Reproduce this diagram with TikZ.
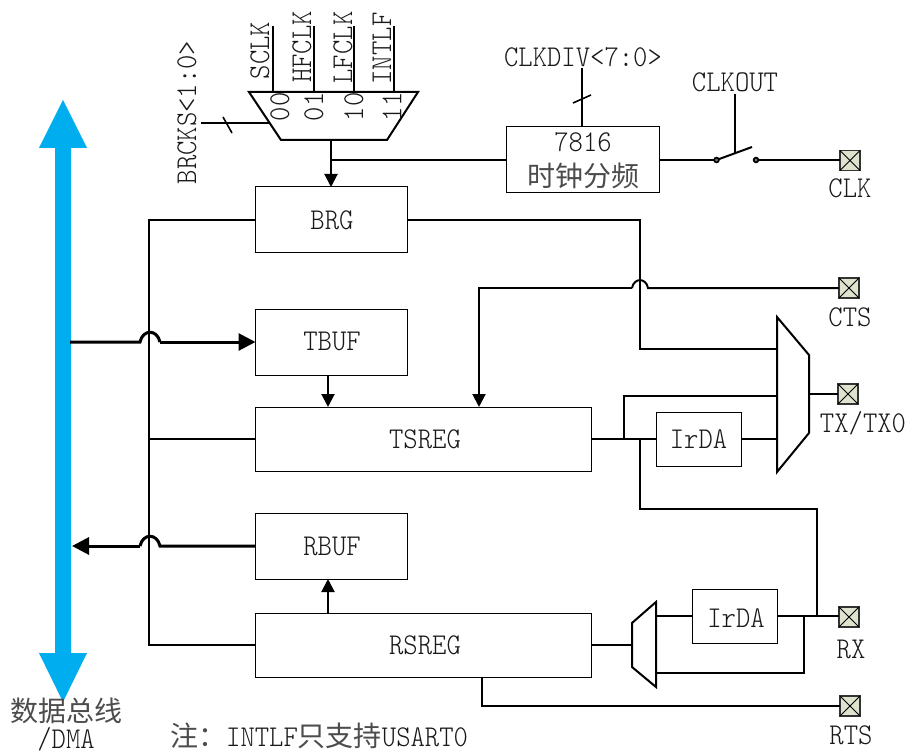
\documentclass[tikz,border=0pt]{standalone}
\usepackage{fontspec}
\usetikzlibrary{arrows.meta,calc}
\setmainfont{Liberation Serif}
\newfontfamily\lat[FakeStretch=0.905]{Latin Modern Mono Light}
\newfontfamily\cjk{Noto Sans CJK SC}
\newcommand{\lbl}{\fontsize{30.2}{30}\selectfont\lat}
\newcommand{\zh}{\fontsize{28}{30}\selectfont\cjk}
\tikzset{
  wire/.style={line width=2pt,black},
  thick wire/.style={line width=3pt,black},
  boxnode/.style={draw=black,line width=1pt,fill=white,inner sep=0pt,outer sep=0pt},
  txt/.style={font=\lbl,inner sep=0pt,outer sep=0pt,text=black!90},
  pad/.style={draw=black!80,line width=1.2pt,fill=padc,minimum size=20pt,inner sep=0pt,outer sep=0pt},
  mux/.style={draw=black,line width=2pt,fill=white,line join=miter},
  tip/.style={-{Triangle[length=13pt,width=13pt]}},
  bigtip/.style={-{Triangle[length=17pt,width=17pt]}},
}
\definecolor{padc}{HTML}{DDE3CC}
\definecolor{buscol}{HTML}{00AEEF}
\newcommand{\padx}[1]{\draw[line width=0.8pt] (#1.north west)--(#1.south east) (#1.north east)--(#1.south west);}
\begin{document}
\begin{tikzpicture}[x=1pt,y=-1pt]
\useasboundingbox (0,0) rectangle (905,754);
% bus
\fill[buscol] (63,100)--(87,148)--(71,148)--(71,653)--(87,653)--(63,702)--(39,653)--(55,653)--(55,148)--(39,148)--cycle;
% boxes
\node[boxnode,minimum width=152pt,minimum height=66pt] (brg) at (331.5,220) {};
\node[boxnode,minimum width=152pt,minimum height=66pt] (tbuf) at (331.5,342) {};
\node[boxnode,minimum width=336pt,minimum height=64pt] (tsreg) at (423.5,439) {};
\node[boxnode,minimum width=152pt,minimum height=66pt] (rbuf) at (331.5,546) {};
\node[boxnode,minimum width=336pt,minimum height=64pt] (rsreg) at (423.5,645) {};
\node[boxnode,minimum width=153pt,minimum height=66pt] (div) at (582.5,160) {};
\node[boxnode,minimum width=85pt,minimum height=54pt] (ir1) at (698.5,439) {};
\node[boxnode,minimum width=85pt,minimum height=54pt] (ir2) at (734.5,616) {};
% pads
\node[pad] (pclk) at (850,160.5) {};
\node[pad] (pcts) at (849,288) {};
\node[pad] (ptx) at (848,394) {};
\node[pad] (prx) at (849,617) {};
\node[pad] (prts) at (850,706) {};
\padx{pclk}\padx{pcts}\padx{ptx}\padx{prx}\padx{prts}
% top mux
\draw[mux] (249,92)--(418,92)--(387,140)--(281,140)--cycle;
\coordinate (minA) at (273,92);\coordinate (minB) at (314,92);\coordinate (minC) at (354,92);\coordinate (minD) at (394,92);
\coordinate (mout) at (331,140);
\coordinate (msel) at (270,123);
\coordinate (topA) at (273,26);\coordinate (topB) at (314,26);\coordinate (topC) at (354,26);\coordinate (topD) at (394,26);
\draw[wire] (topA)--(minA) (topB)--(minB) (topC)--(minC) (topD)--(minD);
\coordinate (selfree) at (201,123);
\draw[wire] (selfree)--(msel);
\coordinate (s1) at (223,117);\coordinate (s2) at (232,133);
\draw[line width=1.6pt] (s1)--(s2);
\draw[wire,tip] (mout)--(brg.north-|mout);
\coordinate (jdiv) at (331,160);
\draw[wire] (jdiv)--(div.west|-jdiv);
% clkdiv
\coordinate (cdfree) at (582,68);
\draw[wire] (cdfree)--(div.north-|cdfree);
\coordinate (s3) at (573,103);\coordinate (s4) at (591,95);
\draw[line width=1.6pt] (s3)--(s4);
% switch
\coordinate (swa) at (716.5,160);\coordinate (swb) at (756,160);
\coordinate (bl) at (752,147);\coordinate (cfree) at (735,94);\coordinate (cend) at (735,153);
\draw[wire] (div.east|-swa)--(swa);
\draw[wire] (swb)--(pclk.west|-swb);
\draw[wire] (swa)--(bl);
\draw[wire] (cfree)--(cend);
\draw[line width=1.6pt,fill=black!55] (swa) circle (2.4pt) (swb) circle (2.4pt);
% left rail
\coordinate (railT) at (149,220);\coordinate (railB) at (149,645);\coordinate (railM) at (149,439);
\draw[wire] (brg.west)--(railT)--(railB)--(rsreg.west);
\draw[wire] (railM)--(tsreg.west);
% thick
\coordinate (tbfree) at (70,342);\coordinate (j1a) at (140,342);\coordinate (j1b) at (160,342);
\draw[thick wire] (tbfree)--(j1a) .. controls (143,329) and (157,329) .. (j1b);
\draw[thick wire,bigtip] (j1b)--(tbuf.west);
\coordinate (rbend) at (72,546);\coordinate (j2a) at (140,546);\coordinate (j2b) at (160,546);
\draw[thick wire] (rbuf.west)--(j2b) .. controls (157,533) and (143,533) .. (j2a);
\draw[thick wire,bigtip] (j2a)--(rbend);
% vertical short arrows
\coordinate (v1) at (328,375);
\draw[wire,tip] (v1)--(tsreg.north-|v1);
\coordinate (v2) at (328,613);
\draw[wire,tip] (v2)--(rbuf.south-|v2);
% BRG to mux
\coordinate (b1) at (640,220);\coordinate (b2) at (640,349);\coordinate (mA) at (777,349);
\draw[wire] (brg.east)--(b1)--(b2)--(mA);
% CTS
\coordinate (c1) at (479,288);\coordinate (cj1) at (632,288);\coordinate (cj2) at (648,288);
\draw[wire,tip] (cj1)--(c1)--(tsreg.north-|c1);
\draw[wire] (cj1) .. controls (634,277.5) and (646,277.5) .. (cj2)--(pcts.west);
% TX mux
\draw[mux] (777,317)--(809,355)--(809,433)--(777,472)--cycle;
\coordinate (mtxout) at (809,394);
\draw[wire] (mtxout)--(ptx.west);
\coordinate (k1) at (624,439);\coordinate (k2) at (624,396);\coordinate (k3) at (777,396);
\draw[wire] (tsreg.east)--(ir1.west);
\draw[wire] (k1)--(k2)--(k3);
\coordinate (k4) at (777,439);
\draw[wire] (ir1.east)--(k4);
\coordinate (r1) at (640,439);\coordinate (r2) at (640,509);\coordinate (r3) at (817,509);\coordinate (r4) at (817,616);
\draw[wire] (r1)--(r2)--(r3)--(r4);
% RX mux
\draw[mux] (632,623)--(656,602)--(656,687)--(632,667)--cycle;
\coordinate (mrxin) at (632,645);
\draw[wire] (rsreg.east)--(mrxin);
\coordinate (q0) at (656,616);
\draw[wire] (q0)--(ir2.west);
\coordinate (q1) at (804,616);\coordinate (q2) at (804,673);\coordinate (q3) at (656,673);
\draw[wire] (ir2.east)--(ir2.east-|prx.west);
\draw[wire] (q1)--(q2)--(q3);
% RTS
\coordinate (t1) at (482,677);\coordinate (t2) at (482,706);
\draw[wire] (t1)--(t2)--(prts.west);
% texts
\node[txt,rotate=90] (tSCLK) at (260,50.5) {SCLK};
\node[txt,rotate=90] (tHF) at (302,47) {HFCLK};
\node[txt,rotate=90] (tLF) at (343,47.5) {LFCLK};
\node[txt,rotate=90] (tIN) at (382,48.5) {INTLF};
\node[txt,rotate=90] (tBR) at (187,112.5) {BRCKS<1:0>};
\node[txt,rotate=90] (n0) at (280,107) {00};
\node[txt,rotate=90] (n1) at (314,107) {01};
\node[txt,rotate=90] (n2) at (354,107) {10};
\node[txt,rotate=90] (n3) at (392,107) {11};
\node[txt] (tCD) at (583,57) {CLKDIV<7:0>};
\node[txt] (tCO) at (735,82) {CLKOUT};
\node[txt] (t78) at (583,142) {7816};
\node[inner sep=0pt,font=\zh,text=black!70] (tdiv) at (583,176) {时钟分频};
\node[txt] (tBRG) at (332,220) {BRG};
\node[txt] (tTB) at (332,341) {TBUF};
\node[txt] (tTS) at (425,439) {TSREG};
\node[txt] (tRB) at (332,546) {RBUF};
\node[txt] (tRS) at (425,645) {RSREG};
\node[txt] (tI1) at (698.5,439) {IrDA};
\node[txt] (tI2) at (736,618) {IrDA};
\node[txt] (tCLK) at (850,188) {CLK};
\node[txt] (tCTS) at (850,317) {CTS};
\node[txt] (tTX) at (863,423) {TX/TX0};
\node[txt] (tRX) at (851,649) {RX};
\node[txt] (tRTS) at (851,735) {RTS};
\node[inner sep=0pt,font=\zh,text=black!70] (tbus) at (66,711) {数据总线};
\node[txt] (tdma) at (66,739.5) {/DMA};
\node[inner sep=0pt,anchor=west,text=black!70] (tnote) at (170,736) {{\zh 注：}{\lbl\color{black!90} INTLF}{\zh 只支持}{\lbl\color{black!90} USART0}};
\end{tikzpicture}
\end{document}
